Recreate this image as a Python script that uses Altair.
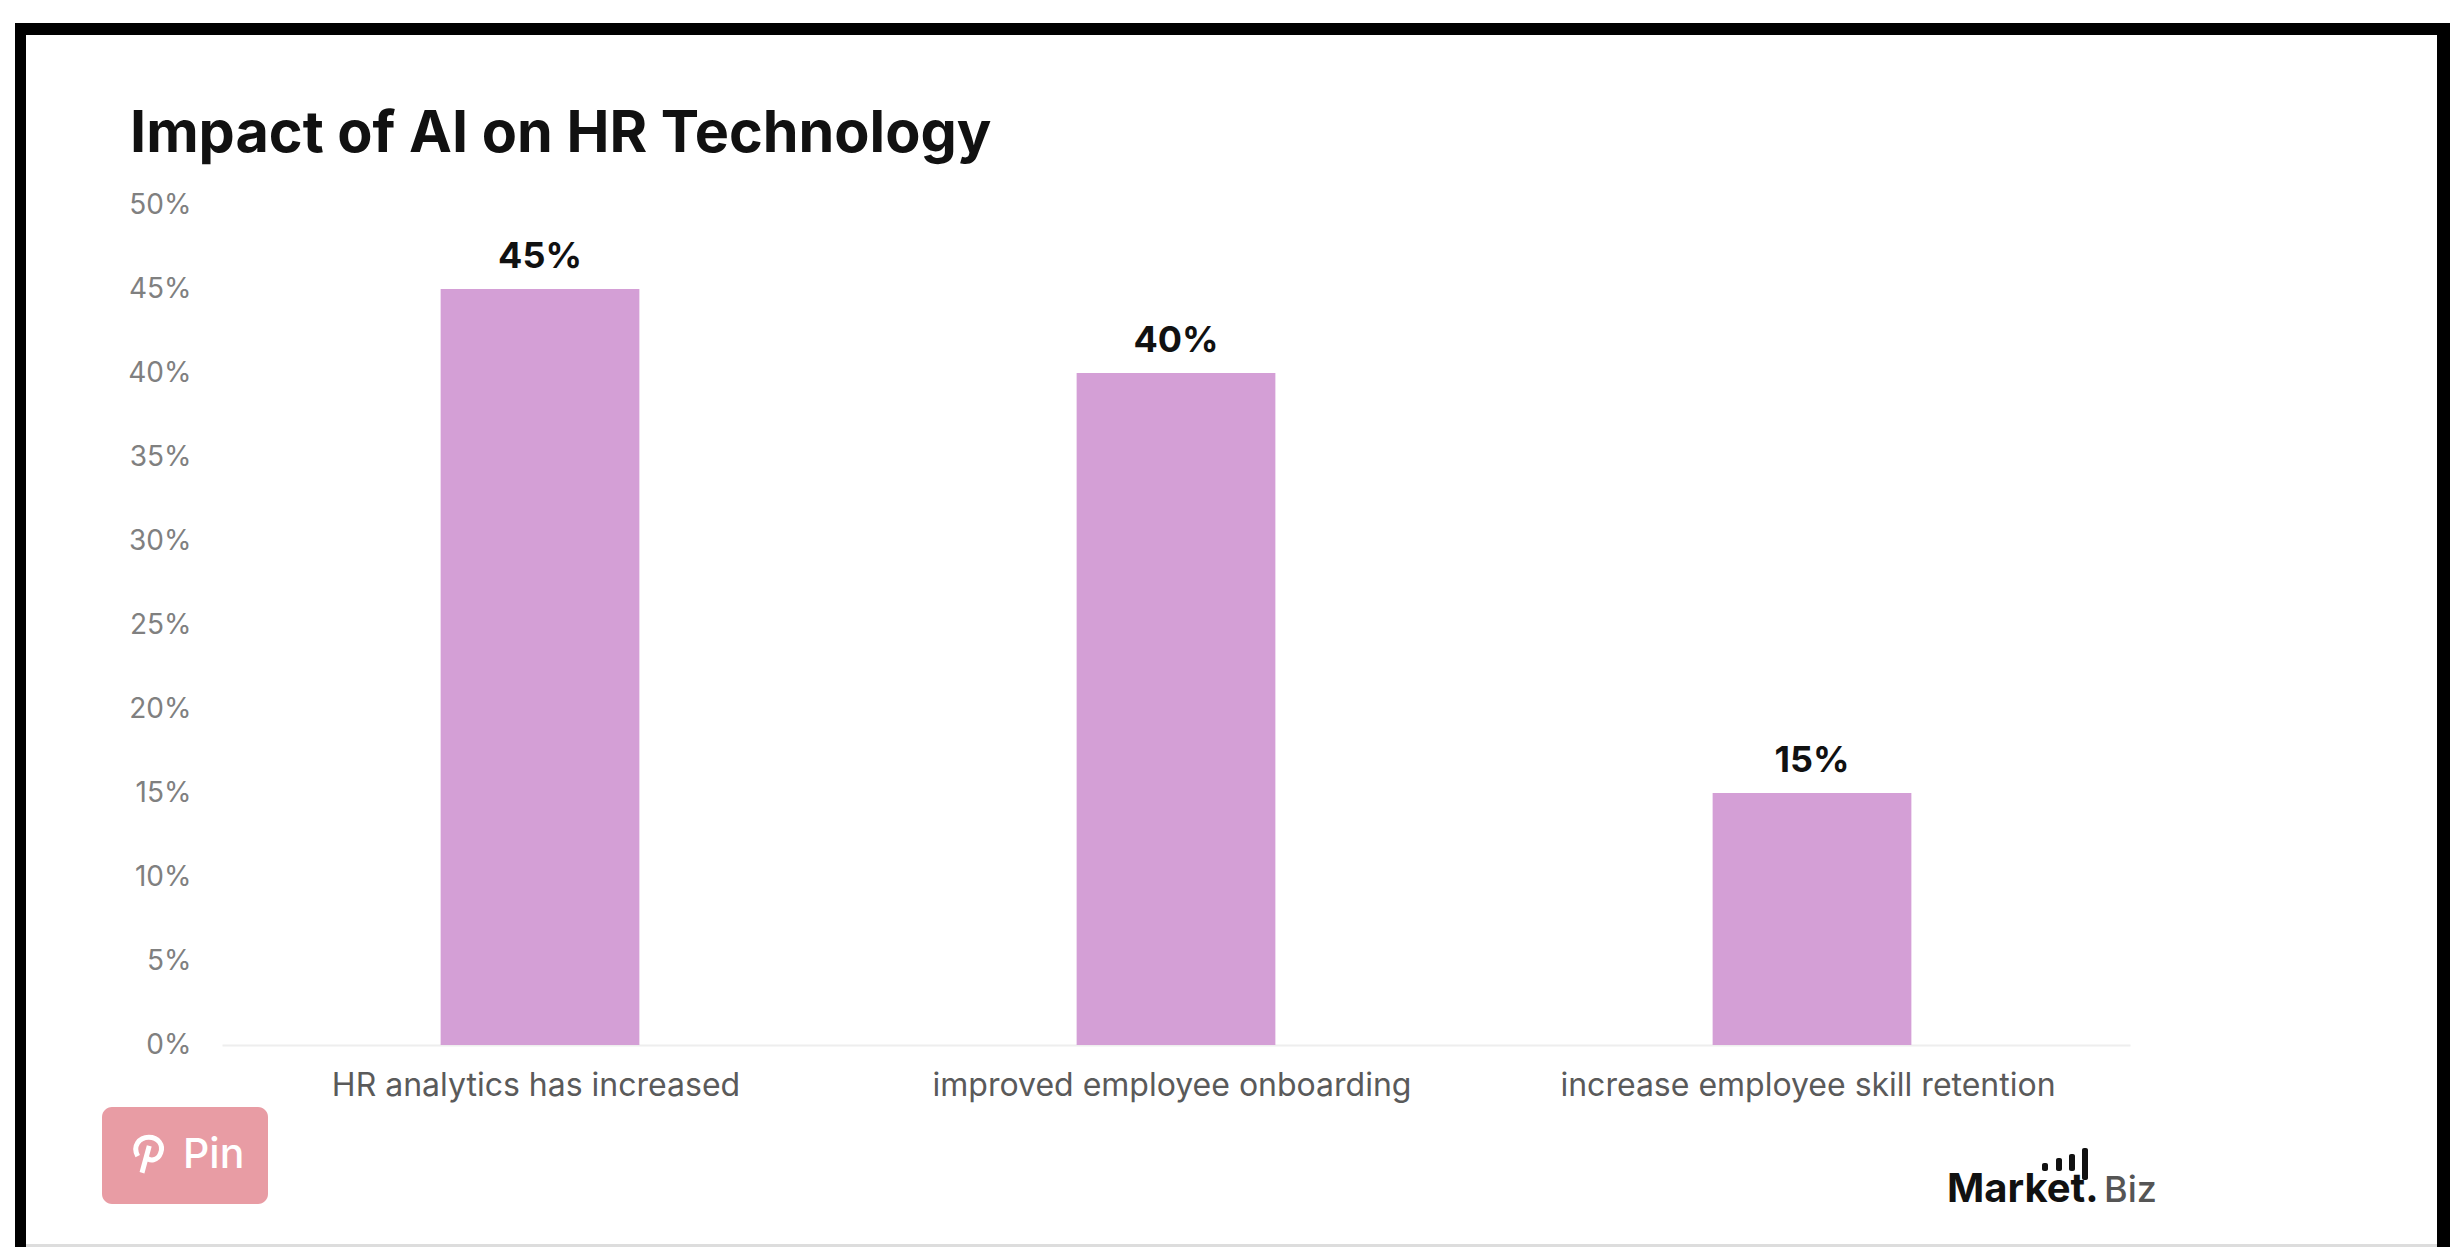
import altair as alt
import pandas as pd

categories = ["HR analytics has increased", "improved employee onboarding", "increase employee skill retention"]
values = [45, 40, 15]
y_ticks = [0, 5, 10, 15, 20, 25, 30, 35, 40, 45, 50]

# Signal bars of the wordmark: left, right, top, bottom in page pixels
logo_bars = [(2042, 2048, 1163, 1171), (2056, 2062, 1158, 1171), (2069, 2075, 1154, 1171), (2082, 2088, 1148, 1180)]

LEFT, TOP, W, H = 222, 205, 1908, 840
FONT = "Inter"


def px(x):
    return alt.value(x - LEFT)


def py(y):
    return alt.value(y - TOP)


def box(x0, x1, y0, y1, color, **kw):
    return alt.Chart().mark_rect(color=color, **kw).encode(x=px(x0), x2=px(x1), y=py(y0), y2=py(y1))


def label(text, x, y, size, color, weight=400, align="left"):
    return alt.Chart().mark_text(
        text=text, font=FONT, fontSize=size, color=color, fontWeight=weight, align=align, baseline="alphabetic"
    ).encode(x=px(x), y=py(y))


df = pd.DataFrame({"category": categories, "value": values})
df["text"] = df["value"].astype(str) + "%"

x_enc = alt.X(
    "category:N",
    sort=None,
    title=None,
    scale=alt.Scale(paddingInner=0.6875, paddingOuter=0.34375),
    axis=alt.Axis(
        labelAngle=0, labelFont=FONT, labelFontSize=32, labelColor="#5a5a5a", labelPadding=25, labelLimit=800,
        labelOffset=-4, ticks=False, domainColor="#eeeeee", domainWidth=2, grid=False,
    ),
)
y_enc = alt.Y(
    "value:Q",
    title=None,
    scale=alt.Scale(domain=[0, 50], nice=False),
    axis=alt.Axis(
        values=y_ticks, labelExpr="datum.value + '%'", labelFont=FONT, labelFontSize=28, labelColor="#808080",
        labelPadding=31, ticks=False, domain=False, grid=False,
    ),
)

base = alt.Chart(df)
bars = base.mark_bar(color="#D49FD6").encode(x=x_enc, y=y_enc)
value_text = base.mark_text(
    font=FONT, fontSize=36, fontWeight="bold", color="#111111", baseline="bottom", dy=-13
).encode(x=x_enc, y=y_enc, text="text:N")

# Outer frame, open along the bottom edge
frame = [
    box(15, 2450, 23, 35, "#000000"),
    box(15, 26, 23, 1247, "#000000"),
    box(2437, 2450, 23, 1247, "#000000"),
    box(26, 2437, 1244, 1247, "#dddddd"),
]

# Pin button in the lower left corner
pin = [
    box(102, 268, 1107, 1204, "#E89CA4", cornerRadius=10),
    alt.Chart().mark_point(
        shape="M -0.65 0.2 C -1 -0.45 -0.55 -1 0.05 -1 C 0.65 -1 1 -0.5 0.8 0 C 0.62 0.5 0.1 0.55 -0.12 0.25 M 0.08 -0.45 L -0.38 1.25",
        size=1000, filled=False, stroke="#ffffff", strokeWidth=5, opacity=1,
    ).encode(x=px(148), y=py(1153)),
    label("Pin", 183, 1168, 41, "#ffffff", 500),
]

# Wordmark in the lower right corner
logo = [box(a, b, c, d, "#111111", cornerRadius=2) for a, b, c, d in logo_bars] + [
    label("Market.", 1947, 1202, 40, "#111111", "bold"),
    label("Biz", 2104, 1202, 36, "#555555", 500),
]

heading = label("Impact of AI on HR Technology", 130, 152, 57.5, "#111111", "bold")

chart = alt.layer(bars, value_text, heading, *frame, *pin, *logo).properties(
    width=W,
    height=H,
    padding={"left": LEFT, "top": TOP, "right": 2450 - LEFT - W, "bottom": 1247 - TOP - H},
    autosize=alt.AutoSizeParams(type="none"),
    background="#ffffff",
).configure_view(stroke=None)

chart.save("out.html", embed_options={"renderer": "svg", "actions": False})
